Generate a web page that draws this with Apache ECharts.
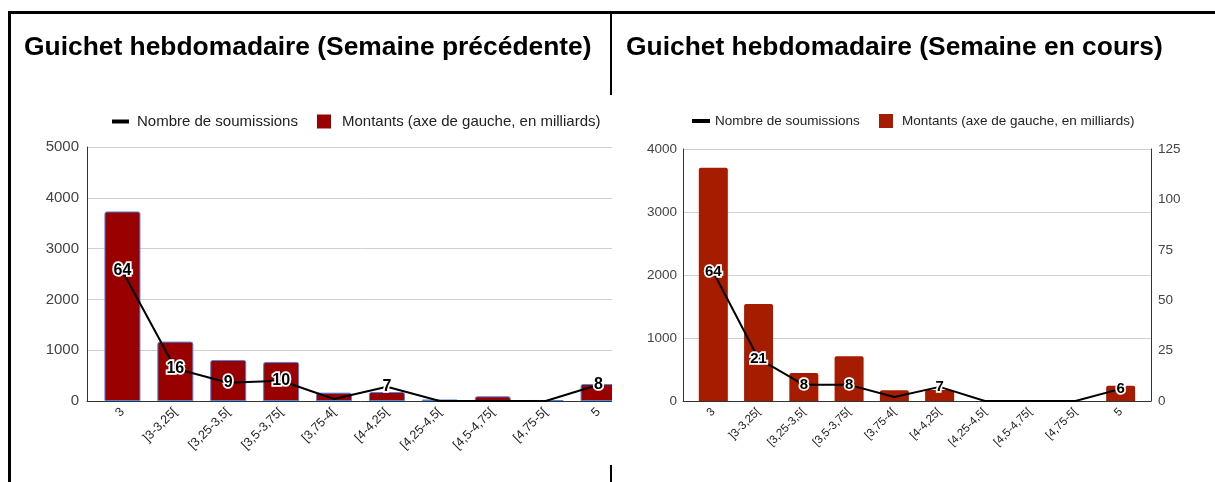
<!DOCTYPE html>
<html>
<head>
<meta charset="utf-8">
<script src="https://cdn.jsdelivr.net/npm/echarts@6/dist/echarts.min.js"></script>
<style>
  body { margin: 0; background: #fff; width: 1215px; height: 482px; overflow: hidden; position: relative; }
  .line { position: absolute; background: #000; z-index: 5; }
  #clipLeft { position: absolute; left: 0; top: 0; width: 612px; height: 482px; overflow: hidden; }
  #chartLeft { position: absolute; left: 0; top: 0; width: 700px; height: 482px; }
  #chartRight { position: absolute; left: 612px; top: 0; width: 603px; height: 482px; }
</style>
</head>
<body>
  <div id="clipLeft"><div id="chartLeft"></div></div>
  <div id="chartRight"></div>
  <div class="line" style="left:8px;top:11px;width:1207px;height:3px"></div>
  <div class="line" style="left:8px;top:11px;width:3px;height:471px"></div>
  <div class="line" style="left:610px;top:12px;width:2px;height:83px"></div>
  <div class="line" style="left:610px;top:465px;width:2px;height:17px"></div>
<script>
// tranches de taux
var categories = ['3', ']3-3,25[', '[3,25-3,5[', '[3,5-3,75[', '[3,75-4[', '[4-4,25[', '[4,25-4,5[', '[4,5-4,75[', '[4,75-5[', '5'];

// semaine precedente
var amountsPrev = [3731, 1169, 808, 769, 164, 177, 30, 92, 20, 335];
var countsPrev = [64, 16, 9, 10, 1, 7, 0, 0, 0, 8];

// semaine en cours
var amountsCur = [3701, 1538, 445, 711, 170, 175, 0, 0, 0, 243];
var countsCur = [64, 21, 8, 8, 2, 7, 0, 0, 0, 6];

var lineName = 'Nombre de soumissions';
var barName = 'Montants (axe de gauche, en milliards)';
var FONT = '"Liberation Sans", Arial, sans-serif';

function plain(v) { return String(v); }

function buildOption(c) {
  var catIdx = categories.map(function (d, i) { return i; });
  return {
    backgroundColor: '#fff',
    animation: false,
    textStyle: { fontFamily: FONT },
    title: {
      text: c.title, left: c.titleLeft, top: 35, padding: 0,
      textStyle: { fontFamily: FONT, fontSize: 26.4, fontWeight: 'bold', color: '#000' }
    },
    legend: [{
      data: [lineName], left: c.legLine, top: 114, padding: 0,
      icon: 'rect', itemWidth: c.lineIconW, itemHeight: 4,
      itemStyle: { borderWidth: 0 },
      textStyle: { fontFamily: FONT, fontSize: c.fs, color: '#222', padding: [0, 0, 0, c.lineTextPad] }
    }, {
      data: [barName], left: c.legBar, top: 114, padding: 0,
      icon: 'rect', itemWidth: c.sq, itemHeight: c.sq,
      itemStyle: { borderWidth: 0 },
      textStyle: { fontFamily: FONT, fontSize: c.fs, color: '#222', padding: [0, 0, 0, c.barTextPad] }
    }],
    grid: {
      left: c.left, top: c.top, width: c.width, height: c.height,
      containLabel: false, outerBoundsMode: 'none'
    },
    xAxis: {
      type: 'value', min: -0.67, max: 9.67,
      splitLine: { show: false },
      axisTick: { show: false },
      axisLine: { show: true, onZero: false, lineStyle: { color: '#333', width: 1 } },
      axisLabel: {
        customValues: catIdx,
        formatter: function (v) { return categories[Math.round(v)]; },
        rotate: 45, margin: 9,
        padding: [0, 0, 0, 0],
        fontFamily: FONT, fontSize: c.catFs, color: '#222'
      }
    },
    yAxis: [{
      type: 'value', min: 0, max: c.amtMax, interval: 1000,
      axisLine: { show: true, onZero: false, lineStyle: { color: '#333' } },
      axisTick: { show: false },
      splitLine: { lineStyle: { color: '#d0d0d0', width: 1 } },
      axisLabel: { formatter: plain, margin: c.labMargin, fontFamily: FONT, fontSize: c.fs, color: '#444' }
    }, {
      type: 'value', min: 0, max: 125, interval: 25,
      axisLine: { show: true, onZero: false, lineStyle: { color: '#333' } },
      axisTick: { show: false },
      splitLine: { show: false },
      axisLabel: { formatter: plain, margin: 7, fontFamily: FONT, fontSize: c.fs, color: '#444' }
    }],
    series: [{
      name: barName, type: 'bar', yAxisIndex: 0,
      barWidth: c.barW,
      itemStyle: { color: c.barColor, borderColor: c.barBorder, borderWidth: c.barBorder ? 1 : 0, borderRadius: [2, 2, 0, 0] },
      data: c.amounts.map(function (v, i) { return [i, v]; })
    }, {
      name: lineName, type: 'line', yAxisIndex: 1, z: 4,
      symbol: 'circle', symbolSize: 2,
      itemStyle: { color: '#000' },
      lineStyle: { color: '#000', width: 2 },
      label: {
        show: true, position: 'inside',
        formatter: function (p) { return p.data[1] >= 5 ? String(p.data[1]) : ''; },
        fontFamily: FONT, fontWeight: 'bold', fontSize: c.lblFs, color: '#000',
        textBorderColor: '#fff', textBorderWidth: 3.5
      },
      data: c.counts.map(function (v, i) { return [i, v]; })
    }]
  };
}

var left = echarts.init(document.getElementById('chartLeft'), null, { renderer: 'canvas' });
left.setOption(buildOption({
  title: 'Guichet hebdomadaire (Semaine précédente)', titleLeft: 24,
  legLine: 112, legBar: 317, lineIconW: 17, lineTextPad: 3, barTextPad: 6, sq: 14, fs: 15, catFs: 12.5, lblFs: 16,
  left: 87, top: 147, width: 547, height: 254,
  amtMax: 5000, labMargin: 8, barW: 36,
  barColor: '#990000', barBorder: '#4a86e8',
  amounts: amountsPrev, counts: countsPrev
}));

var right = echarts.init(document.getElementById('chartRight'), null, { renderer: 'canvas' });
right.setOption(buildOption({
  title: 'Guichet hebdomadaire (Semaine en cours)', titleLeft: 14,
  legLine: 80, legBar: 267, lineIconW: 18, lineTextPad: 0, barTextPad: 4, sq: 14, fs: 13.5, catFs: 11.5, lblFs: 15,
  left: 71, top: 149, width: 468, height: 252,
  amtMax: 4000, labMargin: 6, barW: 29,
  barColor: '#a61c00', barBorder: null,
  amounts: amountsCur, counts: countsCur
}));
</script>
</body>
</html>
